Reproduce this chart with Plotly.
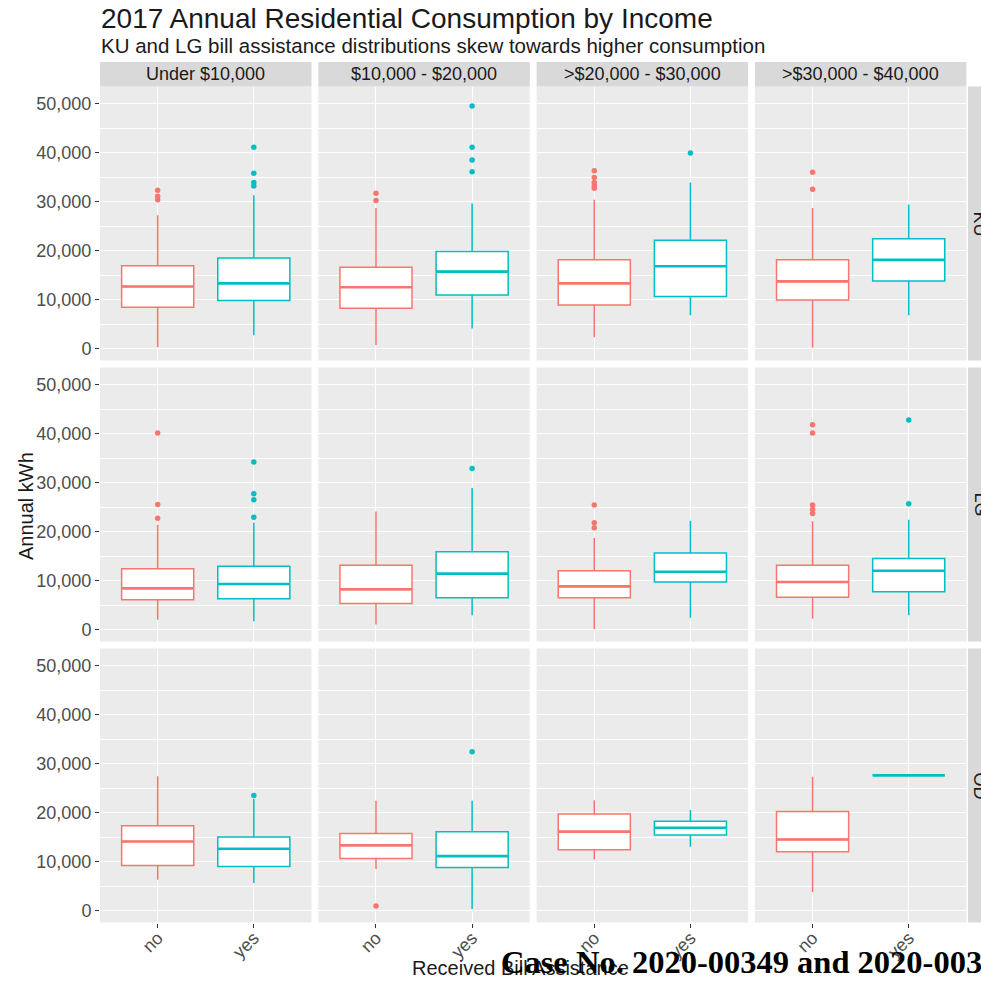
import plotly.graph_objects as go

W, H = 981, 985

regions = ["KU", "LG", "OD"]
incomes = ["Under $10,000", "$10,000 - $20,000", ">$20,000 - $30,000", ">$30,000 - $40,000"]
groups = ["no", "yes"]
y_ticks = [0, 10000, 20000, 30000, 40000, 50000]
y_minor = [5000, 15000, 25000, 35000, 45000]

# each row: [lower whisker, Q1, median, Q3, upper whisker] for one income bin
ku_no = [
    [300, 8400, 12650, 16900, 27200],
    [700, 8200, 12500, 16600, 28700],
    [2300, 8900, 13300, 18100, 30400],
    [200, 9900, 13700, 18100, 28700],
]
ku_yes = [
    [2700, 9800, 13300, 18500, 31300],
    [4100, 10900, 15700, 19800, 29600],
    [6800, 10600, 16800, 22100, 33900],
    [6800, 13800, 18100, 22400, 29400],
]
lg_no = [
    [2000, 6100, 8400, 12400, 21400],
    [1000, 5300, 8200, 13100, 24100],
    [100, 6500, 8800, 12000, 18700],
    [2200, 6600, 9700, 13100, 22100],
]
lg_yes = [
    [1700, 6300, 9300, 12900, 21800],
    [2900, 6500, 11400, 15900, 28900],
    [2400, 9700, 11800, 15600, 22200],
    [2900, 7700, 12000, 14500, 22400],
]
od_no = [
    [6300, 9200, 14100, 17300, 27400],
    [8500, 10600, 13300, 15700, 22400],
    [10400, 12400, 16100, 19700, 22500],
    [3800, 12000, 14500, 20200, 27300],
]
od_yes = [
    [5600, 9000, 12600, 15000, 22800],
    [300, 8800, 11100, 16100, 22400],
    [13000, 15400, 16900, 18200, 20500],
    [27600, 27600, 27600, 27600, 27600],
]

# outliers per income bin
ku_no_out = [[30400, 31100, 32300], [30200, 31700], [32700, 33300, 33900, 34900, 36300], [32500, 36000]]
ku_yes_out = [[33200, 33900, 35800, 41100], [36100, 38500, 41100, 49500], [39900], []]
lg_no_out = [[22700, 25500, 40100], [], [20800, 21800, 25400], [23700, 24500, 25400, 40100, 41800]]
lg_yes_out = [[22900, 26500, 27700, 34200], [32900], [], [25700, 42800]]
od_no_out = [[], [900], [], []]
od_yes_out = [[23500], [32400], [], []]

stats = {"KU": {"no": ku_no, "yes": ku_yes},
         "LG": {"no": lg_no, "yes": lg_yes},
         "OD": {"no": od_no, "yes": od_yes}}
outliers = {"KU": {"no": ku_no_out, "yes": ku_yes_out},
            "LG": {"no": lg_no_out, "yes": lg_yes_out},
            "OD": {"no": od_no_out, "yes": od_yes_out}}

colors = {"no": "#F8766D", "yes": "#00BFC4"}
FONT = "Liberation Sans, Arial, sans-serif"
BOX_W = 0.75

# panel geometry in pixels
col_left = [100, 318.3, 536.6, 754.9]
panel_w = 211.5
row_top = [86.5, 367.5, 648.5]
panel_h = 274

fig = go.Figure()
layout = {}
shapes = []
annotations = []

for r, reg in enumerate(regions):
    for c, inc in enumerate(incomes):
        k = r * 4 + c + 1
        xa = "x" if k == 1 else f"x{k}"
        ya = "y" if k == 1 else f"y{k}"
        for gi, g in enumerate(groups):
            lo, q1, med, q3, hi = stats[reg][g][c]
            fig.add_trace(go.Box(
                x=[g], lowerfence=[lo], q1=[q1], median=[med], q3=[q3], upperfence=[hi],
                xaxis=xa, yaxis=ya, fillcolor="white",
                line=dict(color=colors[g], width=1.5), whiskerwidth=0, width=BOX_W,
                boxpoints=False, showlegend=False, hoverinfo="skip"))
            # thicker median bar, as ggplot draws it
            shapes.append(dict(type="line", xref=xa, yref=ya,
                               x0=gi - BOX_W / 2, x1=gi + BOX_W / 2, y0=med, y1=med,
                               line=dict(color=colors[g], width=2.6), layer="above"))
            outs = outliers[reg][g][c]
            if outs:
                fig.add_trace(go.Scatter(
                    x=[g] * len(outs), y=outs, mode="markers",
                    marker=dict(color=colors[g], size=5.5),
                    xaxis=xa, yaxis=ya, showlegend=False, hoverinfo="skip"))
        x0 = col_left[c]
        x1 = x0 + panel_w
        yt = row_top[r]
        yb = yt + panel_h
        layout[f"xaxis{k}"] = dict(
            domain=[x0 / W, x1 / W], anchor=ya, type="category",
            categoryorder="array", categoryarray=groups, range=[-0.6, 1.6],
            showgrid=True, gridcolor="white", gridwidth=1, zeroline=False, showline=False,
            ticks="outside" if r == 2 else "", ticklen=4, tickcolor="#333333",
            showticklabels=(r == 2), tickangle=-45, ticklabelstandoff=-7,
            tickfont=dict(family=FONT, size=18, color="#4D4D4D"), fixedrange=True)
        layout[f"yaxis{k}"] = dict(
            domain=[1 - yb / H, 1 - yt / H], anchor=xa, range=[-2450, 53500],
            tickvals=y_ticks, tickformat=",d", showgrid=True, gridcolor="white", gridwidth=1.1,
            minor=dict(tickvals=y_minor, showgrid=True, gridcolor="white", gridwidth=0.5),
            zeroline=False, showline=False,
            ticks="outside" if c == 0 else "", ticklen=4, tickcolor="#333333",
            showticklabels=(c == 0),
            tickfont=dict(family=FONT, size=18, color="#4D4D4D"), fixedrange=True)

# top strips
for c, inc in enumerate(incomes):
    x0 = col_left[c]
    x1 = x0 + panel_w
    shapes.append(dict(type="rect", xref="paper", yref="paper",
                       x0=x0 / W, x1=x1 / W, y0=1 - 86.5 / H, y1=1 - 62 / H,
                       fillcolor="#D9D9D9", line=dict(width=0), layer="below"))
    annotations.append(dict(text=inc, xref="paper", yref="paper",
                            x=(x0 + x1) / 2 / W, y=1 - 74.5 / H, showarrow=False,
                            xanchor="center", yanchor="middle",
                            font=dict(family=FONT, size=18, color="#1A1A1A")))

# right strips
for r, reg in enumerate(regions):
    yt = row_top[r]
    yb = yt + panel_h
    shapes.append(dict(type="rect", xref="paper", yref="paper",
                       x0=968 / W, x1=994 / W, y0=1 - yb / H, y1=1 - yt / H,
                       fillcolor="#D9D9D9", line=dict(width=0), layer="below"))
    annotations.append(dict(text=reg, xref="paper", yref="paper",
                            x=980 / W, y=1 - (yt + yb) / 2 / H, showarrow=False,
                            xanchor="center", yanchor="middle", textangle=90,
                            font=dict(family=FONT, size=18, color="#1A1A1A")))

annotations += [
    dict(text="2017 Annual Residential Consumption by Income", xref="paper", yref="paper",
         x=99 / W, y=1 - 19 / H, xanchor="left", yanchor="middle", showarrow=False,
         font=dict(family=FONT, size=28, color="#1A1A1A")),
    dict(text="KU and LG bill assistance distributions skew towards higher consumption",
         xref="paper", yref="paper", x=99 / W, y=1 - 46 / H, xanchor="left", yanchor="middle",
         showarrow=False, font=dict(family=FONT, size=20.5, color="#1A1A1A")),
    dict(text="Annual kWh", xref="paper", yref="paper", x=26 / W, y=1 - 506 / H,
         xanchor="center", yanchor="middle", textangle=-90, showarrow=False,
         font=dict(family=FONT, size=20, color="#1A1A1A")),
    dict(text="Received Bill Assistance", xref="paper", yref="paper", x=520 / W, y=1 - 968 / H,
         xanchor="center", yanchor="middle", showarrow=False,
         font=dict(family=FONT, size=20, color="#1A1A1A")),
    dict(text="<b>Case No. 2020-00349 and 2020-003</b>", xref="paper", yref="paper",
         x=499 / W, y=1 - 962 / H, xanchor="left", yanchor="middle", showarrow=False,
         font=dict(family="Liberation Serif, Times New Roman, serif", size=32.5, color="black")),
]

fig.update_layout(
    width=W, height=H, margin=dict(l=0, r=0, t=0, b=0),
    paper_bgcolor="white", plot_bgcolor="#EBEBEB",
    boxmode="overlay", showlegend=False,
    shapes=shapes, annotations=annotations, **layout)

fig.write_html("out.html", config={"displayModeBar": False},
               post_script="document.body.style.margin='0';document.body.style.overflow='hidden';")
